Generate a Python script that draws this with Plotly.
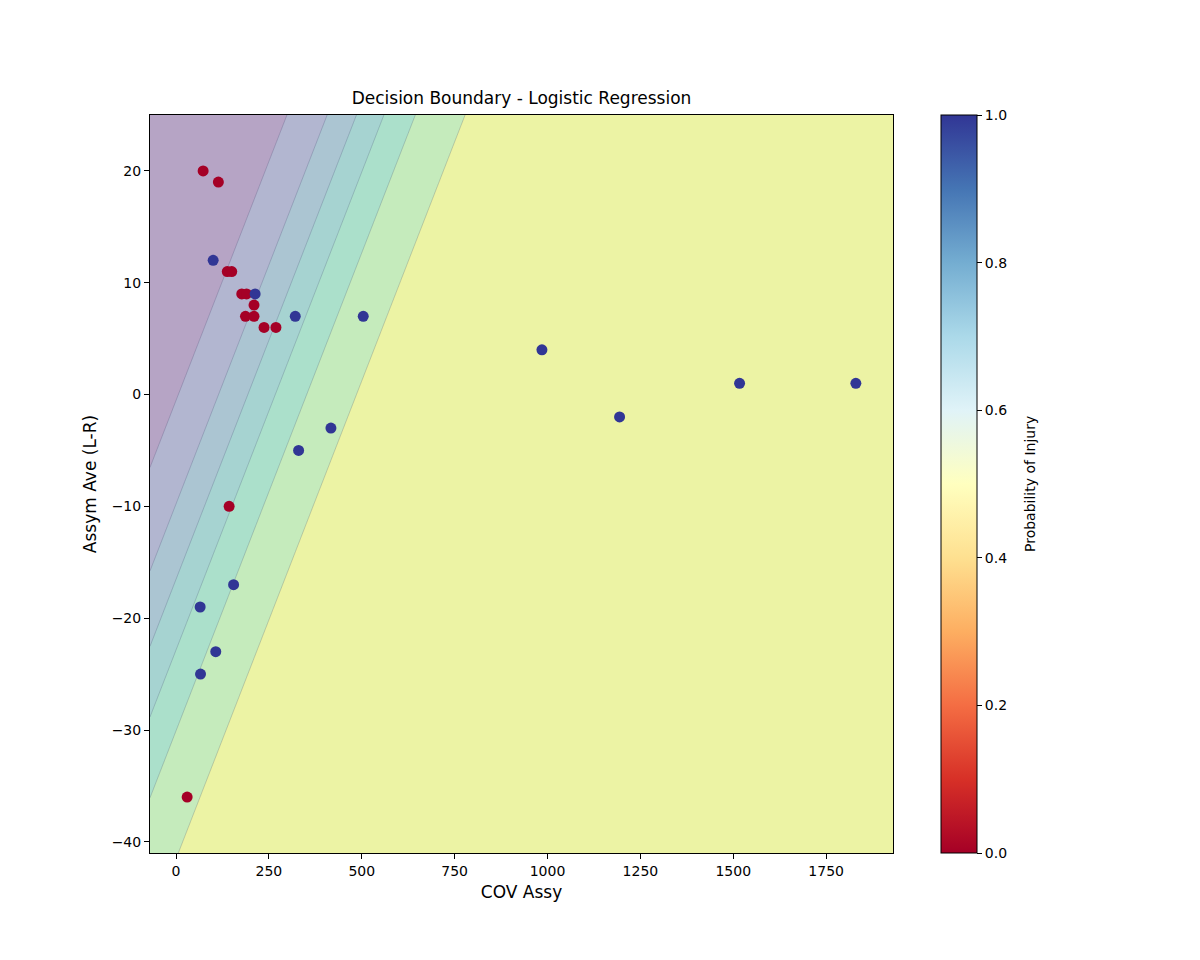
import numpy as np
import plotly.graph_objects as go

# ---- data ----
cov_assy_injury0 = [73, 114, 138, 150, 177, 190, 210, 187, 210, 237, 269, 143, 30]
assym_injury0 = [20, 19, 11, 11, 9, 9, 8, 7, 7, 6, 6, -10, -36]
cov_assy_injury1 = [100, 213, 321, 504, 985, 1194, 1517, 1830, 417, 330, 155, 65, 107, 66]
assym_injury1 = [12, 9, 7, 7, 4, -2, 1, 1, -3, -5, -17, -19, -23, -25]

# logistic regression model (estimated from the drawn boundaries)
intercept = -1.786
coef_cov = 0.0082
coef_assym = -0.0959

contour_levels = [0.15, 0.30, 0.45, 0.60, 0.75, 0.90]
cbar_ticks = [0.0, 0.2, 0.4, 0.6, 0.8, 1.0]

# ---- styles ----
band_colors = ["rgb(182,164,197)", "rgb(178,182,208)", "rgb(171,197,210)",
               "rgb(166,211,209)", "rgb(171,224,203)", "rgb(197,235,188)",
               "rgb(236,243,164)"]
rdylbu = ["#a50026", "#d73027", "#f46d43", "#fdae61", "#fee090", "#ffffbf",
          "#e0f3f8", "#abd9e9", "#74add1", "#4575b4", "#313695"]
FONT = "DejaVu Sans"

xs = cov_assy_injury0 + cov_assy_injury1
ys = assym_injury0 + assym_injury1
labels = [0] * len(cov_assy_injury0) + [1] * len(cov_assy_injury1)

x_min, x_max = min(xs) - 100, max(xs) + 100
y_min, y_max = min(ys) - 5, max(ys) + 5

gx = np.linspace(x_min, x_max, 400)
gy = np.linspace(y_min, y_max, 400)
XX, YY = np.meshgrid(gx, gy)
Z = 1.0 / (1.0 + np.exp(-(intercept + coef_cov * XX + coef_assym * YY)))

n = len(band_colors)
band_scale = [[i / (n - 1), c] for i, c in enumerate(band_colors)]
step = contour_levels[1] - contour_levels[0]

fig = go.Figure()
fig.add_trace(go.Contour(
    x=gx, y=gy, z=Z,
    colorscale=band_scale, showscale=False,
    contours=dict(start=contour_levels[0], end=contour_levels[-1], size=step,
                  coloring="fill"),
    line=dict(width=0.6, color="rgba(50,50,90,0.35)"),
    hoverinfo="skip",
))

cs = [[i / (len(rdylbu) - 1), c] for i, c in enumerate(rdylbu)]
fig.add_trace(go.Scatter(
    x=xs, y=ys, mode="markers",
    marker=dict(size=11, color=labels, colorscale=cs, cmin=0, cmax=1,
                line=dict(width=0),
                showscale=True,
                colorbar=dict(
                    x=(941 - 150) / 743, xanchor="left", xref="paper",
                    xpad=0, ypad=0,
                    y=0.5, yanchor="middle", len=1.0, lenmode="fraction",
                    thickness=36, thicknessmode="pixels",
                    outlinewidth=1, outlinecolor="black",
                    tickvals=cbar_ticks, ticktext=[f"{t:.1f}" for t in cbar_ticks],
                    ticks="outside", ticklen=5, tickcolor="black",
                    tickfont=dict(family=FONT, size=14, color="black"),
                )),
    showlegend=False,
))

fig.add_annotation(
    text="Probability of Injury", textangle=-90,
    x=(1030 - 150) / 743, xref="paper", xanchor="center",
    y=0.5, yref="paper", yanchor="middle", showarrow=False,
    font=dict(family=FONT, size=14, color="black"),
)

fig.update_layout(
    width=1200, height=960,
    paper_bgcolor="white", plot_bgcolor="white",
    margin=dict(l=150, r=307, t=115, b=107),
    title=dict(text="Decision Boundary - Logistic Regression",
               x=(150 + 893) / 2 / 1200, xanchor="center",
               y=1 - 98 / 960, yanchor="middle",
               font=dict(family=FONT, size=17, color="black")),
    font=dict(family=FONT, size=14, color="black"),
)
fig.update_xaxes(range=[x_min, x_max], tickvals=list(range(0, 2000, 250)),
                 showgrid=False, zeroline=False, showline=True, mirror=True,
                 linecolor="black", linewidth=1, ticks="outside", ticklen=5,
                 tickcolor="black", tickfont=dict(size=14),
                 title=dict(text="COV Assy", standoff=8))
fig.update_yaxes(range=[y_min, y_max], tickvals=list(range(-40, 30, 10)),
                 showgrid=False, zeroline=False, showline=True, mirror=True,
                 linecolor="black", linewidth=1, ticks="outside", ticklen=5,
                 tickcolor="black", tickfont=dict(size=14),
                 title=dict(text="Assym Ave (L-R)", standoff=10))

fig.write_html("out.html")
